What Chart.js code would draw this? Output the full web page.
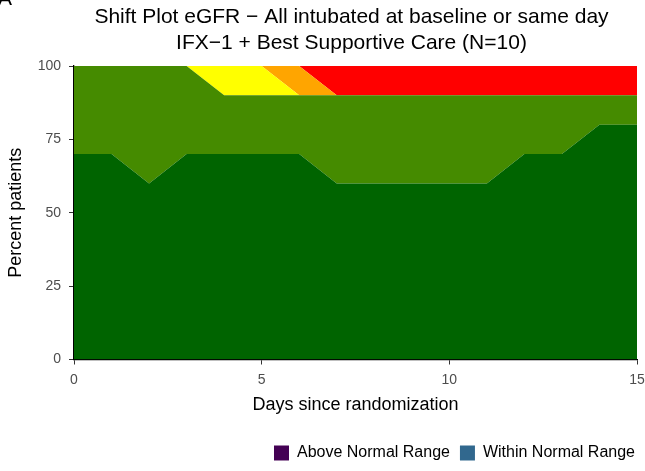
<!DOCTYPE html>
<html>
<head>
<meta charset="utf-8">
<script src="https://cdn.jsdelivr.net/npm/chart.js@4/dist/chart.umd.min.js"></script>
<style>
  body { margin: 0; background: #fff; }
  canvas { display: block; }
</style>
</head>
<body>
<canvas id="shiftChart" width="645" height="471"></canvas>
<script>
// Data
const days = [0, 1, 2, 3, 4, 5, 6, 7, 8, 9, 10, 11, 12, 13, 14, 15];
const seriesNames = ['Grade 1', 'Grade 2', 'Grade 3', 'Grade 4', 'Grade 5'];
const grade1 = [70, 70, 60, 70, 70, 70, 70, 60, 60, 60, 60, 60, 70, 70, 80, 80];
const grade2 = [30, 30, 40, 30, 20, 20, 20, 30, 30, 30, 30, 30, 20, 20, 10, 10];
const grade3 = [0, 0, 0, 0, 10, 10, 0, 0, 0, 0, 0, 0, 0, 0, 0, 0];
const grade4 = [0, 0, 0, 0, 0, 0, 10, 0, 0, 0, 0, 0, 0, 0, 0, 0];
const grade5 = [0, 0, 0, 0, 0, 0, 0, 10, 10, 10, 10, 10, 10, 10, 10, 10];
const yTicks = [0, 25, 50, 75, 100];
const xTicks = [0, 5, 10, 15];
const legendNames = ['Above Normal Range', 'Within Normal Range'];

const seriesColors = ['#006400', '#458B00', '#FFFF00', '#FFA500', '#FF0000'];
const legendColors = ['#440154', '#31688E'];
const FONT = '"Liberation Sans", Arial, Helvetica, sans-serif';

const allSeries = [grade1, grade2, grade3, grade4, grade5];
const datasets = allSeries.map(function(vals, i) {
    return {
        label: seriesNames[i],
        data: days.map(function(d, j) { return { x: d, y: vals[j] }; }),
        backgroundColor: seriesColors[i],
        borderColor: seriesColors[i],
        borderWidth: 0,
        pointRadius: 0,
        tension: 0,
        fill: i === 0 ? 'origin' : '-1'
    };
});

// title lines over the panel, plus the clipped panel tag
const titlePlugin = {
    id: 'panelTitle',
    afterDraw: function(chart) {
        const c = chart.ctx;
        const area = chart.chartArea;
        const cx = (area.left + area.right) / 2 - 4;
        c.save();
        c.fillStyle = '#000';
        c.textAlign = 'center';
        c.textBaseline = 'middle';
        c.font = '21px ' + FONT;
        c.fillText('Shift Plot eGFR \u2212 All intubated at baseline or same day', cx, 17.5);
        c.fillText('IFX\u22121 + Best Supportive Care (N=10)', cx, 43.5);
        c.textAlign = 'left';
        c.textBaseline = 'alphabetic';
        c.fillText('A', -2, 5);
        c.restore();
    }
};

new Chart(document.getElementById('shiftChart').getContext('2d'), {
    type: 'line',
    data: { datasets: datasets },
    options: {
        responsive: false,
        animation: false,
        layout: { padding: { top: 66, right: 0, left: 0, bottom: 0 } },
        scales: {
            x: {
                type: 'linear',
                min: 0,
                max: 15,
                afterBuildTicks: function(scale) {
                    scale.ticks = xTicks.map(function(v) { return { value: v }; });
                },
                afterFit: function(scale) {
                    scale.height = 75.5;
                    scale.paddingLeft = 0;
                    scale.paddingRight = 8;
                },
                ticks: { color: '#4d4d4d', font: { family: FONT, size: 14 }, padding: 7, maxRotation: 0 },
                grid: { display: true, drawOnChartArea: false, tickLength: 5, color: '#333' },
                border: { display: true, color: '#000', width: 1.3 },
                title: {
                    display: true,
                    text: 'Days since randomization',
                    color: '#000',
                    font: { family: FONT, size: 18 },
                    padding: { top: 4, bottom: 19 }
                }
            },
            y: {
                stacked: true,
                min: 0,
                max: 100,
                afterBuildTicks: function(scale) {
                    scale.ticks = yTicks.map(function(v) { return { value: v }; });
                },
                afterFit: function(scale) { scale.width = 74; },
                ticks: { color: '#4d4d4d', font: { family: FONT, size: 14 }, padding: 8 },
                grid: { display: true, drawOnChartArea: false, tickLength: 5, color: '#333' },
                border: { display: true, color: '#000', width: 1.3 },
                title: {
                    display: true,
                    text: 'Percent patients',
                    color: '#000',
                    font: { family: FONT, size: 18 },
                    padding: { top: 5, bottom: 4 }
                }
            }
        },
        plugins: {
            title: { display: false },
            tooltip: { enabled: false },
            legend: {
                position: 'bottom',
                align: 'end',
                onClick: null,
                labels: {
                    boxWidth: 15,
                    boxHeight: 15,
                    padding: 10,
                    color: '#000',
                    font: { family: FONT, size: 16 },
                    generateLabels: function() {
                        return legendNames.map(function(name, i) {
                            return {
                                text: name,
                                fillStyle: legendColors[i],
                                strokeStyle: legendColors[i],
                                lineWidth: 0,
                                hidden: false,
                                datasetIndex: i
                            };
                        });
                    }
                }
            }
        }
    },
    plugins: [titlePlugin]
});
</script>
</body>
</html>
